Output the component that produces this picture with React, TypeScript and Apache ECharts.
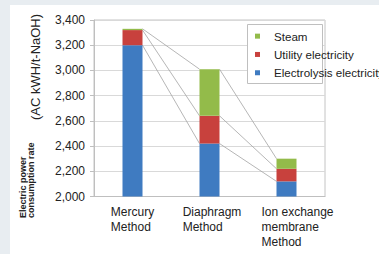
import React, { useEffect, useRef } from "react";
import * as echarts from "echarts";

const categories = ["Mercury\nMethod", "Diaphragm\nMethod", "Ion exchange\nmembrane\nMethod"];
const electrolysis = [3200, 2420, 2120];
const utility = [120, 220, 100];
const steam = [10, 370, 80];
const yTicks = { min: 2000, max: 3400, interval: 200 };
const legendNames = ["Steam", "Utility electricity", "Electrolysis electricity"];

const FONT = "'Liberation Sans', Arial, Helvetica, sans-serif";
const BLUE = "#3f7bc1";
const RED = "#c8413d";
const GREEN = "#93bb4a";
const BAR_W = 20;

export default function App() {
  const ref = useRef<HTMLDivElement>(null);
  useEffect(() => {
    if (!ref.current) return;
    const chart = echarts.init(ref.current, undefined, { renderer: "svg" });

    const levels = [electrolysis, utility, steam];
    const cum = categories.map((_, i) => {
      const a = electrolysis[i];
      const b = a + utility[i];
      const c = b + steam[i];
      return [a, b, c];
    });
    const lineData: number[][] = [];
    for (let i = 0; i < categories.length - 1; i++) {
      for (let l = 0; l < levels.length; l++) {
        lineData.push([i, cum[i][l], cum[i + 1][l]]);
      }
    }

    const richKeys = ["a", "b", "c"];
    const labelStyle = (pad: number) => ({
      align: "left",
      fontSize: 12,
      lineHeight: 15,
      color: "#222",
      fontFamily: FONT,
      padding: [0, 0, 0, pad],
    });

    chart.setOption({
      animation: false,
      grid: {
        left: 94,
        right: 54,
        top: 20,
        bottom: 57.5,
        show: true,
        borderColor: "#c4c4c4",
        borderWidth: 1,
        backgroundColor: "transparent",
      },
      legend: {
        orient: "vertical",
        left: 255,
        top: 30,
        padding: 0,
        itemWidth: 5,
        itemHeight: 5,
        itemGap: 6,
        icon: "rect",
        data: legendNames,
        selectedMode: false,
        textStyle: {
          fontSize: 11.6,
          lineHeight: 12.3,
          color: "#222",
          fontFamily: FONT,
          padding: [0, 0, 0, 9],
        },
      },
      xAxis: {
        type: "category",
        data: categories,
        axisLine: { lineStyle: { color: "#bfbfbf" } },
        axisTick: { show: false },
        axisLabel: {
          margin: 8,
          interval: 0,
          formatter: (v: string, idx: number) =>
            v.split("\n").map((l) => `{${richKeys[idx]}|${l}}`).join("\n"),
          rich: {
            a: labelStyle(0),
            b: labelStyle(5),
            c: labelStyle(22),
          },
        },
      },
      yAxis: {
        type: "value",
        min: yTicks.min,
        max: yTicks.max,
        interval: yTicks.interval,
        axisLine: { show: true, lineStyle: { color: "#bfbfbf" } },
        axisTick: { show: true, length: 4, lineStyle: { color: "#bfbfbf" } },
        splitLine: { lineStyle: { color: "#d9d9d9" } },
        axisLabel: {
          margin: 9,
          fontSize: 12,
          color: "#222",
          fontFamily: FONT,
          formatter: (v: number) => v.toLocaleString("en-US"),
        },
      },
      graphic: [
        {
          type: "rect",
          z: 3,
          shape: { x: 247.5, y: 24.5, width: 75, height: 59 },
          style: { fill: "#fff", stroke: "#bfbfbf", lineWidth: 1 },
          silent: true,
        },
        {
          type: "text",
          x: 35.5,
          y: 67,
          rotation: Math.PI / 2,
          style: {
            text: "(AC kWH/t-NaOH)",
            fontSize: 13,
            fontFamily: FONT,
            fill: "#222",
            align: "center",
            verticalAlign: "middle",
            textAlign: "center",
            textVerticalAlign: "middle",
          },
        },
        {
          type: "text",
          x: 27,
          y: 218,
          rotation: Math.PI / 2,
          style: {
            text: "Electric power\nconsumption rate",
            fontSize: 9,
            fontWeight: "bold",
            lineHeight: 7.5,
            fontFamily: FONT,
            fill: "#222",
            align: "left",
            verticalAlign: "middle",
            textAlign: "left",
            textVerticalAlign: "middle",
          },
        },
      ],
      series: [
        {
          name: "Electrolysis electricity",
          type: "bar",
          stack: "total",
          barWidth: BAR_W,
          data: electrolysis,
          itemStyle: { color: BLUE },
        },
        {
          name: "Utility electricity",
          type: "bar",
          stack: "total",
          barWidth: BAR_W,
          data: utility,
          itemStyle: { color: RED },
        },
        {
          name: "Steam",
          type: "bar",
          stack: "total",
          barWidth: BAR_W,
          data: steam,
          itemStyle: { color: GREEN },
        },
        {
          name: "series-lines",
          type: "custom",
          silent: true,
          z: 1,
          data: lineData,
          encode: { x: 0, y: [1, 2] },
          renderItem: (params: any, api: any) => {
            const i = api.value(0);
            const p1 = api.coord([i, api.value(1)]);
            const p2 = api.coord([i + 1, api.value(2)]);
            return {
              type: "line",
              shape: { x1: p1[0] + BAR_W / 2, y1: p1[1], x2: p2[0] - BAR_W / 2, y2: p2[1] },
              style: { stroke: "#a3a3a3", lineWidth: 0.8 },
            };
          },
        },
      ],
    });
    return () => chart.dispose();
  }, []);

  return (
    <div style={{ position: "absolute", left: 0, top: 0, width: 379, height: 254, background: "#e8edf1", overflow: "hidden" }}>
      <div style={{ position: "absolute", left: 10, top: 5, right: 0, bottom: 0, background: "#fff" }} />
      <div ref={ref} style={{ position: "absolute", left: 0, top: 0, width: 379, height: 254 }} />
    </div>
  );
}
